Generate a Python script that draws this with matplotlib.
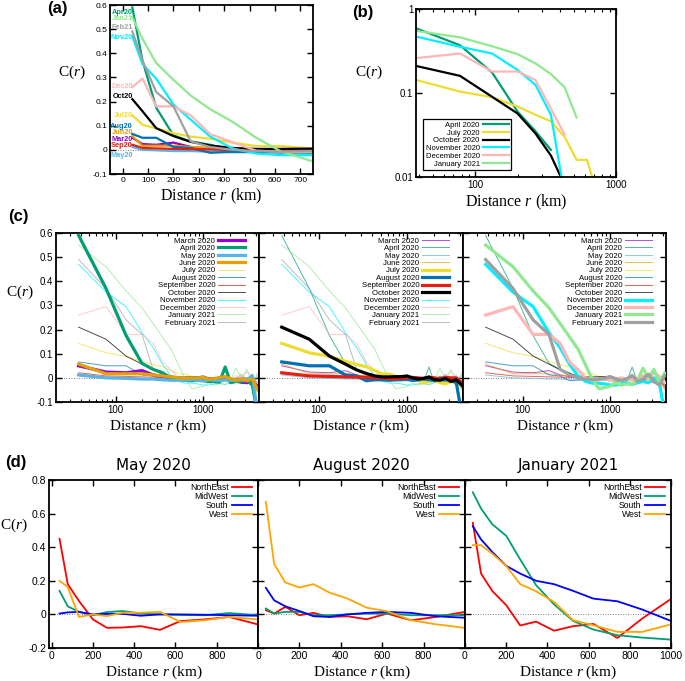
import matplotlib
matplotlib.use('Agg')
import matplotlib.pyplot as plt
from matplotlib.ticker import FuncFormatter, NullFormatter, FixedLocator

plt.rcParams['font.family'] = ['Liberation Sans', 'DejaVu Sans']
plt.rcParams['axes.unicode_minus'] = False
plt.rcParams['mathtext.fontset'] = 'custom'
plt.rcParams['mathtext.rm'] = 'Liberation Serif'
plt.rcParams['mathtext.it'] = 'Liberation Serif:italic'

# ---------------- data ----------------
r = [38, 78, 132, 200, 268, 345, 432, 525, 623, 740, 860, 1000, 1150, 1330,
     1530, 1770, 2040, 2350, 2710, 3130, 3610, 4160]

mar20 = [0.050, 0.024, 0.021, 0.030, 0.012, 0.005, 0.000, -0.003, -0.005, -0.002, -0.003, -0.005, -0.006, -0.004, -0.008, -0.006, -0.010, -0.012, -0.018, -0.020, -0.010, -0.040]
apr20 = [0.590, 0.370, 0.175, 0.060, 0.035, 0.021, -0.003, -0.006, -0.010, -0.012, -0.010, -0.012, -0.015, -0.015, -0.018, 0.045, -0.020, -0.015, -0.015, -0.010, -0.030, -0.150]
may20 = [0.012, 0.000, -0.002, -0.005, -0.005, -0.008, -0.010, -0.010, -0.010, -0.008, -0.010, -0.012, -0.008, -0.010, -0.012, -0.008, -0.010, -0.012, -0.008, -0.010, 0.010, -0.150]
jun20 = [0.057, 0.017, 0.017, 0.017, 0.012, 0.008, 0.004, 0.000, -0.002, 0.000, 0.000, 0.002, -0.005, -0.003, 0.002, 0.005, -0.003, -0.010, -0.005, -0.012, -0.005, -0.050]
jul20 = [0.143, 0.104, 0.089, 0.069, 0.055, 0.046, 0.030, 0.016, 0.016, 0.006, 0.004, 0.002, -0.005, -0.010, -0.020, -0.015, -0.010, -0.020, -0.025, -0.015, -0.020, -0.030]
aug20 = [0.066, 0.050, 0.050, 0.012, 0.008, -0.012, -0.008, -0.008, -0.010, -0.008, -0.008, -0.005, -0.010, -0.008, -0.004, -0.008, -0.010, 0.000, -0.005, -0.008, -0.020, -0.150]
sep20 = [0.021, 0.008, 0.006, 0.004, 0.003, 0.002, 0.000, 0.000, -0.004, -0.004, -0.002, 0.000, 0.002, 0.000, -0.003, 0.003, 0.000, -0.005, 0.002, 0.000, 0.000, -0.020]
oct20 = [0.210, 0.160, 0.090, 0.057, 0.033, 0.018, 0.008, 0.004, 0.004, 0.005, 0.005, 0.008, 0.000, -0.005, -0.002, 0.003, -0.008, -0.010, -0.002, -0.015, -0.008, -0.030]
nov20 = [0.470, 0.355, 0.295, 0.188, 0.125, 0.055, 0.006, -0.015, -0.022, -0.022, -0.025, -0.030, -0.030, -0.025, -0.020, -0.028, -0.020, -0.015, -0.020, 0.000, -0.020, -0.150]
dec20 = [0.260, 0.295, 0.180, 0.180, 0.143, 0.065, 0.032, -0.003, -0.008, -0.008, -0.005, -0.008, -0.005, 0.000, -0.004, -0.008, -0.010, 0.010, -0.008, 0.025, 0.005, -0.020]
jan21 = [0.550, 0.460, 0.360, 0.290, 0.225, 0.168, 0.117, 0.051, -0.006, -0.045, -0.040, -0.035, -0.020, -0.030, -0.025, -0.028, -0.010, 0.040, 0.000, 0.035, -0.020, 0.020]
feb21 = [0.490, 0.370, 0.240, 0.180, 0.035, 0.012, 0.000, -0.005, -0.008, -0.005, -0.002, 0.005, -0.005, -0.010, -0.005, 0.010, -0.015, -0.005, 0.015, -0.015, -0.030, 0.010]

month_names = ['March 2020', 'April 2020', 'May 2020', 'June 2020', 'July 2020',
               'August 2020', 'September 2020', 'October 2020', 'November 2020',
               'December 2020', 'January 2021', 'February 2021']
month_short = ['Mar20', 'Apr20', 'May20', 'Jun20', 'Jul20', 'Aug20', 'Sep20',
               'Oct20', 'Nov20', 'Dec20', 'Jan21', 'Feb21']
series = [mar20, apr20, may20, jun20, jul20, aug20, sep20, oct20, nov20, dec20, jan21, feb21]
colors = ['#9400D3', '#009E73', '#56B4E9', '#E69F00', '#EEDD30', '#0072B2', '#E51E10',
          '#000000', '#00F0FF', '#FFB6B6', '#90E890', '#A0A0A0']

# panel (a) label order and label heights
a_label_order = ['Apr20', 'Jan21', 'Feb21', 'Nov20', 'Dec20', 'Oct20', 'Jul20',
                 'Aug20', 'Jun20', 'Mar20', 'Sep20', 'May20']
a_label_y = [0.57, 0.545, 0.505, 0.466, 0.261, 0.219, 0.141, 0.095, 0.071, 0.044, 0.017, -0.022]

# panel (b) subset
b_months = ['April 2020', 'July 2020', 'October 2020', 'November 2020', 'December 2020', 'January 2021']

# panel (c) thick groups
c_groups = [['March 2020', 'April 2020', 'May 2020', 'June 2020'],
            ['July 2020', 'August 2020', 'September 2020', 'October 2020'],
            ['November 2020', 'December 2020', 'January 2021', 'February 2021']]

# panel (d)
rd = [38, 78, 132, 200, 268, 345, 432, 525, 623, 740, 860, 1000]
regions = ['NorthEast', 'MidWest', 'South', 'West']
region_colors = ['#FF0000', '#009E73', '#0000FF', '#FFA500']
d_titles = ['May 2020', 'August 2020', 'January 2021']
may_ne = [0.45, 0.18, 0.08, -0.03, -0.08, -0.078, -0.07, -0.092, -0.04, -0.03, -0.015, -0.06]
may_mw = [0.14, 0.048, 0.015, -0.005, 0.014, 0.02, 0.005, 0.0, -0.003, -0.005, 0.008, -0.005]
may_s = [0.005, 0.012, 0.015, 0.0, 0.003, 0.003, -0.008, 0.0, 0.0, -0.002, -0.005, -0.008]
may_w = [0.20, 0.163, -0.015, 0.0, -0.01, 0.01, 0.01, 0.015, -0.045, -0.035, -0.015, -0.03]
aug_ne = [0.025, 0.005, 0.045, -0.005, 0.009, -0.015, -0.011, -0.029, 0.005, -0.035, -0.015, 0.015]
aug_mw = [0.035, 0.005, 0.015, 0.015, -0.005, -0.005, 0.0, 0.005, 0.005, -0.005, -0.005, -0.005]
aug_s = [0.158, 0.084, 0.048, 0.02, -0.011, -0.015, 0.0, 0.009, 0.015, 0.009, -0.011, -0.02]
aug_w = [0.67, 0.30, 0.19, 0.16, 0.18, 0.13, 0.094, 0.04, 0.019, -0.035, -0.059, -0.08]
jan_ne = [0.545, 0.243, 0.14, 0.055, -0.066, -0.043, -0.097, -0.07, -0.057, -0.14, -0.025, 0.092]
jan_mw = [0.727, 0.63, 0.537, 0.468, 0.327, 0.174, 0.06, -0.039, -0.09, -0.124, -0.138, -0.15]
jan_s = [0.525, 0.446, 0.372, 0.289, 0.243, 0.2, 0.18, 0.14, 0.094, 0.078, 0.029, -0.039]
jan_w = [0.412, 0.412, 0.362, 0.289, 0.18, 0.138, 0.074, -0.035, -0.065, -0.104, -0.104, -0.059]
d_data = [[may_ne, may_mw, may_s, may_w],
          [aug_ne, aug_mw, aug_s, aug_w],
          [jan_ne, jan_mw, jan_s, jan_w]]

# ---------------- figure ----------------
W, H = 685, 681
fig = plt.figure(figsize=(W / 100, H / 100), dpi=100)


def add_ax(l, t, rr, b):
    return fig.add_axes([l / W, 1 - b / H, (rr - l) / W, (b - t) / H])


SERIF = 'Liberation Serif'
CR = r'$\mathrm{C}(r)$'
XL = r'Distance $r$ (km)'


def lin_fmt(v, p):
    if abs(v) < 1e-9:
        return '0'
    return '%g' % round(v, 3)


def style(ax, fs):
    ax.tick_params(which='both', direction='in', top=True, right=True, labelsize=fs, pad=2)
    ax.tick_params(which='major', length=4, width=1.0)
    ax.tick_params(which='minor', length=2, width=0.8)
    for s in ax.spines.values():
        s.set_linewidth(1.3)


# panel (a)
ax = add_ax(110, 5, 313, 174)
for name, ys, c in zip(month_short, series, colors):
    ax.plot(r, ys, color=c, lw=1.6)
ax.axhline(0, color='#555555', lw=0.6, ls=(0, (1, 2)), zorder=0)
ax.set_xlim(-50, 750)
ax.set_ylim(-0.1, 0.6)
ax.set_xticks(range(0, 800, 100))
ax.set_yticks([-0.1, 0, 0.1, 0.2, 0.3, 0.4, 0.5, 0.6])
ax.yaxis.set_major_formatter(FuncFormatter(lin_fmt))
style(ax, 6)
for lab, ly in zip(a_label_order, a_label_y):
    c = colors[month_short.index(lab)]
    ax.text(40, ly, lab, color=c, fontsize=5.3, ha='right', va='center', fontweight='bold')
ax.set_ylabel(CR, fontsize=11, rotation=0, family=SERIF)
ax.yaxis.set_label_coords(-0.19, 0.55)
ax.set_xlabel(XL, fontsize=11.5, family=SERIF, labelpad=2)
fig.text(47 / W, 1 - 9 / H, '(a)', fontsize=12, fontweight='bold', va='center', ha='left')

# panel (b)
ax = add_ax(416, 9, 616, 177)
ax.set_xscale('log')
ax.set_yscale('log', nonpositive='mask')
for name, ys, c in zip(month_names, series, colors):
    if name in b_months:
        ax.plot(r, ys, color=c, lw=1.6, label=name)
ax.set_xlim(38, 1000)
ax.set_ylim(0.01, 1)
ax.xaxis.set_major_formatter(FuncFormatter(lambda v, p: '%g' % v))
ax.xaxis.set_minor_formatter(NullFormatter())
ax.yaxis.set_major_formatter(FuncFormatter(lambda v, p: '%g' % v))
ax.yaxis.set_minor_locator(FixedLocator([]))
style(ax, 7)
handles, labels = ax.get_legend_handles_labels()
order = [labels.index(m) for m in b_months]
leg = ax.legend([handles[i] for i in order], [labels[i] for i in order],
                loc='lower left', bbox_to_anchor=(0.035, 0.04), borderaxespad=0,
                fontsize=5.5, markerfirst=False, handlelength=3.3, labelspacing=0.05,
                handletextpad=0.5, borderpad=0.35, fancybox=False, framealpha=1,
                edgecolor='black')
leg.get_frame().set_linewidth(0.9)
ax.set_ylabel(CR, fontsize=11, rotation=0, family=SERIF)
ax.yaxis.set_label_coords(-0.235, 0.57)
ax.set_xlabel(XL, fontsize=11.5, family=SERIF, labelpad=2)
fig.text(352 / W, 1 - 12 / H, '(b)', fontsize=12, fontweight='bold', va='center', ha='left')

# panel (c)
c_bounds = [(56, 259), (259, 463), (463, 666)]
for k, (l, rr) in enumerate(c_bounds):
    ax = add_ax(l, 233, rr, 402)
    ax.set_xscale('log')
    for name, ys, c in zip(month_names, series, colors):
        thick = name in c_groups[k]
        ax.plot(r, ys, color=c, lw=2.3 if thick else 0.7, alpha=1.0 if thick else 0.7,
                zorder=3 if thick else 2, label=name)
    ax.axhline(0, color='#555555', lw=0.6, ls=(0, (1, 2)), zorder=1)
    ax.set_xlim(21, 4300)
    ax.set_ylim(-0.1, 0.6)
    ax.set_yticks([-0.1, 0, 0.1, 0.2, 0.3, 0.4, 0.5, 0.6])
    ax.xaxis.set_major_formatter(FuncFormatter(lambda v, p: '%g' % v))
    ax.xaxis.set_minor_formatter(NullFormatter())
    style(ax, 7)
    if k == 0:
        ax.yaxis.set_major_formatter(FuncFormatter(lin_fmt))
        ax.set_ylabel(CR, fontsize=11, rotation=0, family=SERIF)
        ax.yaxis.set_label_coords(-0.18, 0.6)
    else:
        ax.set_yticklabels([])
    ax.set_xlabel(XL, fontsize=11, family=SERIF, labelpad=2)
    ax.legend(loc='upper right', bbox_to_anchor=(0.93, 0.975), borderaxespad=0,
              frameon=False, fontsize=5.6, markerfirst=False, handlelength=3.4,
              labelspacing=0.0, handletextpad=0.4, borderpad=0)
fig.text(8 / W, 1 - 217 / H, '(c)', fontsize=12, fontweight='bold', va='center', ha='left')

# panel (d)
d_bounds = [(49, 258), (258, 465), (465, 671)]
for k, (l, rr) in enumerate(d_bounds):
    ax = add_ax(l, 480, rr, 648)
    for reg, ys, c in zip(regions, d_data[k], region_colors):
        ax.plot(rd, ys, color=c, lw=1.3, label=reg)
    ax.axhline(0, color='#555555', lw=0.6, ls=(0, (1, 2)), zorder=0)
    ax.set_xlim(-13 if k == 0 else 0, 1000)
    ax.set_ylim(-0.2, 0.8)
    ax.set_xticks([0, 200, 400, 600, 800, 1000])
    if k < 2:
        ax.set_xticklabels(['0', '200', '400', '600', '800', ''])
    ax.set_yticks([-0.2, 0, 0.2, 0.4, 0.6, 0.8])
    style(ax, 7.5)
    if k == 0:
        ax.yaxis.set_major_formatter(FuncFormatter(lin_fmt))
        ax.set_ylabel(CR, fontsize=11, rotation=0, family=SERIF)
        ax.yaxis.set_label_coords(-0.17, 0.68)
    else:
        ax.set_yticklabels([])
    ax.set_title(d_titles[k], fontsize=11, family='DejaVu Sans', pad=7)
    ax.set_xlabel(XL, fontsize=11, family=SERIF, labelpad=2)
    ax.legend(loc='upper right', bbox_to_anchor=(0.97, 0.985), borderaxespad=0,
              frameon=False, fontsize=6.2, markerfirst=False, handlelength=2.3,
              labelspacing=0.0, handletextpad=0.4, borderpad=0)
fig.text(5 / W, 1 - 463 / H, '(d)', fontsize=12, fontweight='bold', va='center', ha='left')

fig.savefig('out.png', dpi=100)
